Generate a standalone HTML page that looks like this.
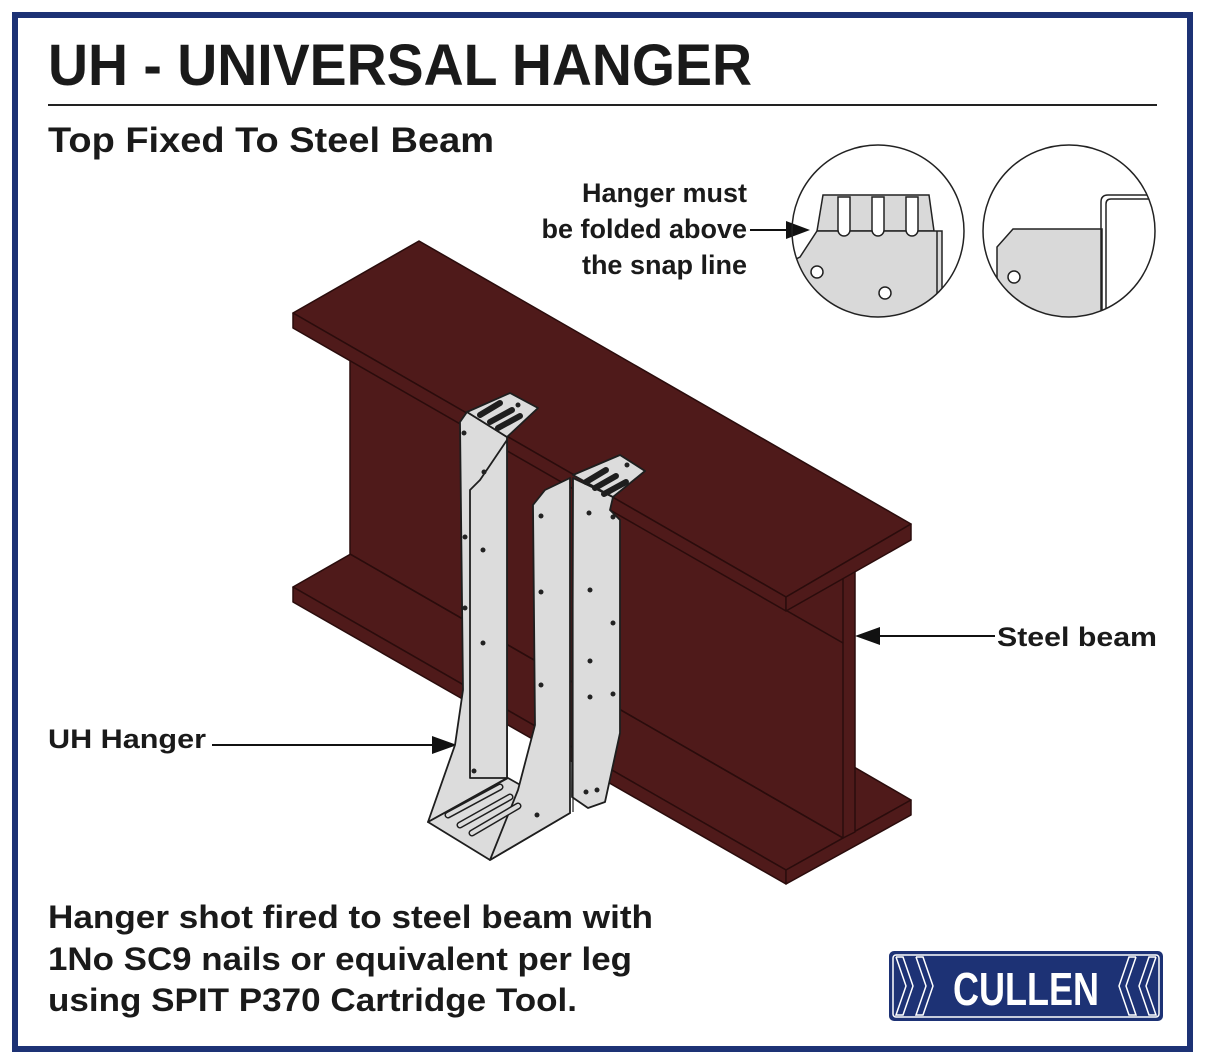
<!DOCTYPE html>
<html><head><meta charset="utf-8"><style>
html,body{margin:0;padding:0;background:#fff}
svg{display:block}
text{font-family:"Liberation Sans",sans-serif;fill:#1a1a1a}
</style></head><body>
<svg width="1205" height="1063" viewBox="0 0 1205 1063" xmlns="http://www.w3.org/2000/svg">
<defs>
<clipPath id="c1"><circle cx="878" cy="231" r="86"/></clipPath>
<clipPath id="c2"><circle cx="1069" cy="231" r="86"/></clipPath>
</defs>
<rect x="0" y="0" width="1205" height="1063" fill="#fff"/>
<rect x="15" y="15" width="1175" height="1034" fill="none" stroke="#1d3275" stroke-width="6"/>

<text x="48" y="85" font-size="58" font-weight="bold" textLength="704" lengthAdjust="spacingAndGlyphs">UH - UNIVERSAL HANGER</text>
<line x1="48" y1="105" x2="1157" y2="105" stroke="#222" stroke-width="2"/>
<text x="48" y="152" font-size="35" font-weight="bold" textLength="446" lengthAdjust="spacingAndGlyphs">Top Fixed To Steel Beam</text>

<g font-size="27" font-weight="bold" text-anchor="end">
<text x="747" y="202">Hanger must</text>
<text x="747" y="238">be folded above</text>
<text x="747" y="274">the snap line</text>
</g>
<line x1="750" y1="230" x2="790" y2="230" stroke="#111" stroke-width="2"/>
<polygon points="810,230 786,221 786,239" fill="#111"/>
<text x="997" y="646" font-size="27" font-weight="bold" textLength="160" lengthAdjust="spacingAndGlyphs">Steel beam</text>
<line x1="995" y1="636" x2="875" y2="636" stroke="#111" stroke-width="2"/>
<polygon points="855,636 880,627 880,645" fill="#111"/>
<text x="48" y="748" font-size="27" font-weight="bold" textLength="158" lengthAdjust="spacingAndGlyphs">UH Hanger</text>
<line x1="212" y1="745" x2="437" y2="745" stroke="#111" stroke-width="2"/>
<polygon points="457,745 432,736 432,754" fill="#111"/>

<g font-size="32" font-weight="bold">
<text x="48" y="928" textLength="605" lengthAdjust="spacingAndGlyphs">Hanger shot fired to steel beam with</text>
<text x="48" y="970" textLength="584" lengthAdjust="spacingAndGlyphs">1No SC9 nails or equivalent per leg</text>
<text x="48" y="1011" textLength="529" lengthAdjust="spacingAndGlyphs">using SPIT P370 Cartridge Tool.</text>
</g>

<!-- beam -->
<g stroke="#2a0c0c" stroke-width="1.5" stroke-linejoin="round" fill="#4f1a1a">
<polygon points="293,587 419,515 911,800 786,870"/>
<polygon points="293,587 786,870 786,884 293,602"/>
<polygon points="786,870 911,800 911,815 786,884"/>
<polygon points="350,300 855,570 855,832 843,838 350,554"/>
<line x1="843" y1="578" x2="843" y2="838"/>
<line x1="350" y1="554" x2="843" y2="838"/>
<line x1="350" y1="360" x2="843" y2="643"/>
<polygon points="293,313 419,241 911,524 786,597"/>
<polygon points="293,313 786,597 786,611 293,328"/>
<polygon points="786,597 911,524 911,540 786,611"/>
</g>

<!-- hangers -->
<g stroke="#1e1e1e" stroke-width="1.8" stroke-linejoin="round" fill="#dcdcdc">
<polygon points="460,422 467,412 507,437 507,778 428,822 455,745 463,690"/>
<polygon points="467,412 510,393 538,408 507,437"/>
<polygon points="470,490 480,480 507,440 507,778 470,778"/>
<polygon points="428,822 508,778 570,813 490,860"/>
<polygon points="573,478 613,497 610,510 620,520 620,733 605,802 588,808 572,797"/>
<polygon points="573,475 620,455 645,471 613,497"/>
<polygon points="533,505 545,490 570,478 570,813 490,860 518,790 535,725"/>
</g>
<g stroke="#1e1e1e" stroke-width="1.2" fill="none">
<line x1="573" y1="478" x2="573" y2="812"/>
<path d="M448,815 L500,787 M460,825 L510,797 M472,833 L518,806" stroke-width="7" stroke-linecap="round"/>
<path d="M448,815 L500,787 M460,825 L510,797 M472,833 L518,806" stroke="#dcdcdc" stroke-width="4" stroke-linecap="round"/>
<path d="M480,415 L500,403 M490,422 L512,410 M498,428 L520,416" stroke-width="6" stroke-linecap="round"/>
<path d="M586,482 L606,470 M595,488 L616,476 M604,494 L626,482" stroke-width="6" stroke-linecap="round"/>
</g>
<g fill="#222">
<circle cx="464" cy="433" r="2.5"/><circle cx="484" cy="472" r="2.5"/><circle cx="465" cy="537" r="2.5"/><circle cx="483" cy="550" r="2.5"/>
<circle cx="465" cy="608" r="2.5"/><circle cx="483" cy="643" r="2.5"/><circle cx="474" cy="771" r="2.5"/>
<circle cx="541" cy="516" r="2.5"/><circle cx="541" cy="592" r="2.5"/><circle cx="541" cy="685" r="2.5"/><circle cx="537" cy="815" r="2.5"/>
<circle cx="589" cy="513" r="2.5"/><circle cx="613" cy="517" r="2.5"/><circle cx="590" cy="590" r="2.5"/><circle cx="613" cy="623" r="2.5"/>
<circle cx="590" cy="661" r="2.5"/><circle cx="590" cy="697" r="2.5"/><circle cx="613" cy="694" r="2.5"/><circle cx="586" cy="792" r="2.5"/><circle cx="597" cy="790" r="2.5"/>
<circle cx="518" cy="405" r="2.5"/><circle cx="627" cy="465" r="2.5"/>
</g>

<g clip-path="url(#c1)" stroke="#222" stroke-width="1.5" fill="#d9d9d9">
<polygon points="823,195 929,195 934,231 817,231"/>
<polygon points="817,231 942,231 942,330 790,330 790,262 800,257"/>
<line x1="937" y1="231" x2="937" y2="330"/>
<path d="M838,197 L838,230 A6,6 0 0 0 850,230 L850,197 Z" fill="#fff"/>
<path d="M872,197 L872,230 A6,6 0 0 0 884,230 L884,197 Z" fill="#fff"/>
<path d="M906,197 L906,230 A6,6 0 0 0 918,230 L918,197 Z" fill="#fff"/>
<circle cx="817" cy="272" r="6" fill="#fff"/>
<circle cx="885" cy="293" r="6" fill="#fff"/>
</g>
<circle cx="878" cy="231" r="86" fill="none" stroke="#222" stroke-width="1.5"/>

<g clip-path="url(#c2)" stroke="#222" stroke-width="1.5" fill="#d9d9d9">
<polygon points="1013,229 1102,229 1102,330 997,330 997,247"/>
<path d="M1101,330 L1101,202 Q1101,195 1108,195 L1160,195" fill="none"/>
<path d="M1106,330 L1106,204 Q1106,199 1111,199 L1160,199" fill="none"/>
<circle cx="1014" cy="277" r="6" fill="#fff"/>
</g>
<circle cx="1069" cy="231" r="86" fill="none" stroke="#222" stroke-width="1.5"/>

<rect x="889" y="951" width="274" height="70" rx="5" fill="#1d3275"/>
<rect x="893" y="955" width="266" height="62" rx="3" fill="none" stroke="#fff" stroke-width="1.5"/>
<g fill="none" stroke="#fff" stroke-width="1.5">
<polyline points="896,957 906,986 896,1015 903,1015 913,986 903,957 896,957"/>
<polyline points="916,957 926,986 916,1015 923,1015 933,986 923,957 916,957"/>
<polyline points="1156,957 1146,986 1156,1015 1149,1015 1139,986 1149,957 1156,957"/>
<polyline points="1136,957 1126,986 1136,1015 1129,1015 1119,986 1129,957 1136,957"/>
</g>
<text x="1026" y="1005" font-size="46" font-weight="bold" text-anchor="middle" style="fill:#fff" textLength="146" lengthAdjust="spacingAndGlyphs">CULLEN</text>
</svg>
</body></html>
